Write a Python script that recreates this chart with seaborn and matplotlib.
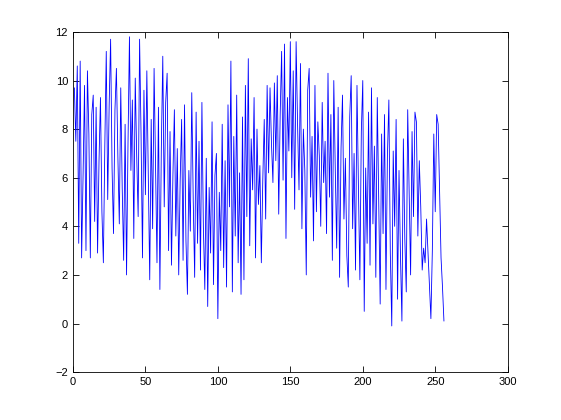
import matplotlib
matplotlib.use("Agg")
import matplotlib.pyplot as plt
import seaborn as sns
import numpy as np
import pandas as pd

values = [
    9.7, 7.5, 10.6, 3.3, 10.8, 2.7, 6.1, 9.8, 3.0, 10.4,
    7.8, 2.7, 8.6, 9.4, 4.2, 8.9, 2.9, 6.7, 9.3, 4.6,
    2.5, 7.3, 11.2, 5.1, 9.0, 11.7, 6.4, 3.7, 8.8, 10.5,
    6.9, 4.1, 9.7, 5.6, 2.6, 8.2, 2.0, 7.4, 11.8, 6.3,
    9.2, 3.5, 10.1, 6.9, 4.4, 11.7, 7.8, 2.7, 9.6, 5.3,
    10.4, 6.0, 1.8, 8.4, 3.9, 10.5, 6.6, 2.5, 8.9, 1.4,
    7.2, 11.0, 4.8, 9.1, 10.3, 3.0, 7.9, 2.4, 6.1, 8.8,
    3.6, 7.2, 2.0, 5.9, 8.4, 2.6, 9.0, 3.4, 1.2, 6.3,
    3.8, 9.5, 5.1, 1.9, 8.7, 3.3, 7.5, 2.2, 9.1, 4.0,
    1.4, 6.8, 0.7, 5.6, 2.9, 8.3, 1.6, 6.1, 7.0, 0.2,
    5.4, 3.0, 8.2, 2.3, 6.7, 1.5, 9.0, 4.8, 10.8, 1.3,
    7.7, 3.6, 9.4, 2.5, 6.2, 1.2, 8.5, 1.8, 9.8, 4.4,
    10.9, 3.2, 7.6, 5.5, 9.3, 2.7, 8.0, 4.9, 6.5, 2.5,
    5.9, 8.4, 4.3, 9.8, 6.2, 9.7, 7.4, 5.8, 9.9, 6.7,
    10.2, 4.5, 8.6, 11.2, 5.9, 11.5, 3.5, 9.3, 7.1, 11.6,
    6.0, 10.4, 4.7, 11.6, 8.2, 5.5, 10.7, 3.9, 8.0, 6.3,
    2.0, 9.6, 10.5, 5.2, 7.7, 3.4, 9.8, 4.6, 8.3, 6.9,
    4.0, 9.1, 5.8, 7.5, 3.7, 10.3, 5.2, 8.6, 2.6, 10.0,
    6.4, 3.1, 8.9, 1.9, 7.2, 9.4, 4.3, 6.8, 2.8, 1.5,
    8.5, 10.2, 3.9, 7.0, 2.2, 9.8, 5.6, 1.8, 7.9, 10.0,
    0.5, 6.4, 3.3, 8.7, 2.4, 9.7, 4.1, 7.3, 1.9, 9.3,
    5.2, 0.8, 7.8, 3.7, 8.6, 1.4, 6.9, 9.2, 2.9, -0.1,
    7.1, 4.0, 8.4, 1.0, 6.3, 2.8, 0.1, 7.6, 3.5, 1.3,
    8.8, 5.3, 2.0, 7.9, 4.4, 8.7, 8.3, 3.6, 6.7, 4.8,
    2.2, 3.1, 2.5, 4.3, 2.9, 1.4, 0.2, 3.0, 7.8, 4.6,
    8.6, 8.2, 5.4, 2.7, 1.5, 0.1,
]
index = list(range(1, len(values) + 1))

xticks = [0, 50, 100, 150, 200, 250, 300]
yticks = [-2, 0, 2, 4, 6, 8, 10, 12]

sns.set_style("ticks")
plt.rcParams['font.family'] = ['Liberation Sans', 'DejaVu Sans']

df = pd.DataFrame({"x": index, "y": values})

fig = plt.figure(figsize=(5.61, 4.2), dpi=100, facecolor="white")
ax = fig.add_axes([0.130, 0.114, 0.775, 0.810])
sns.lineplot(data=df, x="x", y="y", ax=ax, color="#0000ff", linewidth=0.6,
             estimator=None, sort=False)

ax.set_xlim(0, 300)
ax.set_ylim(-2, 12)
ax.set_xticks(xticks)
ax.set_yticks(yticks)
ax.set_xlabel("")
ax.set_ylabel("")
for s in ax.spines.values():
    s.set_visible(True)
    s.set_linewidth(0.6)
    s.set_color("black")
ax.tick_params(direction="in", top=True, right=True, length=4, width=0.6,
               labelsize=8, colors="black")
ax.set_facecolor("white")

fig.savefig("out.png", dpi=100, facecolor="white")
